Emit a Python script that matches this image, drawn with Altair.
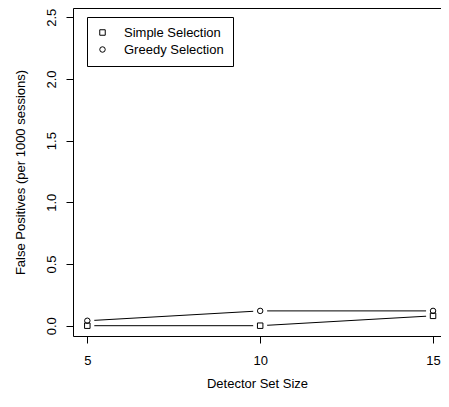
import altair as alt
import pandas as pd

sizes = [5, 10, 15]
simple_fp = [0.0, 0.0, 0.08]
greedy_fp = [0.04, 0.12, 0.12]
series_names = ["Simple Selection", "Greedy Selection"]

rows = []
for s, v in zip(sizes, simple_fp):
    rows.append({"size": s, "fp": v, "series": series_names[0]})
for s, v in zip(sizes, greedy_fp):
    rows.append({"size": s, "fp": v, "series": series_names[1]})
df = pd.DataFrame(rows)

FONT = "Liberation Sans"
PH = 328
PW = 368

xscale = alt.Scale(domain=[4.586, 15.23], nice=False, zero=False)
yscale = alt.Scale(domain=[-0.0835, 2.575], nice=False, zero=False)

bottom_axis = alt.Axis(values=[5, 10, 15], title="Detector Set Size", format="d",
                       tickSize=7, labelPadding=11, titlePadding=10, grid=False,
                       domainColor="black", tickColor="black", labelColor="black",
                       titleColor="black", labelFontSize=13, titleFontSize=13,
                       labelFont=FONT, titleFont=FONT, titleFontWeight="normal")
top_axis = alt.Axis(orient="top", labels=False, ticks=False, title=None, grid=False,
                    domainColor="black")
left_axis = alt.Axis(values=[0, 0.5, 1.0, 1.5, 2.0, 2.5], format=".1f",
                     title="False Positives (per 1000 sessions)", labelAngle=-90,
                     tickSize=7, labelPadding=8, titlePadding=18, grid=False,
                     domainColor="black", tickColor="black", labelColor="black",
                     titleColor="black", labelFontSize=13, titleFontSize=13,
                     labelFont=FONT, titleFont=FONT, titleFontWeight="normal")

y_enc = alt.Y("fp:Q", scale=yscale, axis=left_axis)
x_bottom = alt.X("size:Q", scale=xscale, axis=bottom_axis)
base = alt.Chart(df)

border = base.mark_point(opacity=0).encode(
    x=alt.X("size:Q", scale=xscale, axis=top_axis),
    y=y_enc,
)
lines = base.mark_line(color="black", strokeWidth=1).encode(
    x=x_bottom, y=y_enc, detail="series:N",
)
halo = base.mark_point(filled=True, color="white", opacity=1, size=200).encode(
    x=x_bottom, y=y_enc,
)
points = base.mark_point(color="black", strokeWidth=1, size=30, opacity=1).encode(
    x=x_bottom, y=y_enc,
    shape=alt.Shape("series:N",
                    scale=alt.Scale(domain=series_names, range=["square", "circle"]),
                    legend=alt.Legend(title=None, orient="none", legendX=14, legendY=9,
                                      strokeColor="black", fillColor="white", padding=9,
                                      labelFontSize=13, labelFont=FONT, labelColor="black",
                                      labelOffset=15, rowPadding=3, symbolSize=30,
                                      symbolStrokeColor="black", symbolFillColor="transparent",
                                      symbolStrokeWidth=1)),
)

inner = alt.layer(lines, halo, points)
chart = alt.layer(border, inner).resolve_axis(x="independent").properties(
    width=PW, height=PH,
    autosize=alt.AutoSizeParams(type="none"),
    padding={"left": 65, "top": 0, "right": 0, "bottom": 56},
).configure_view(stroke=None).configure(background="white")

chart.save("out.html", embed_options={"renderer": "svg", "actions": False})
